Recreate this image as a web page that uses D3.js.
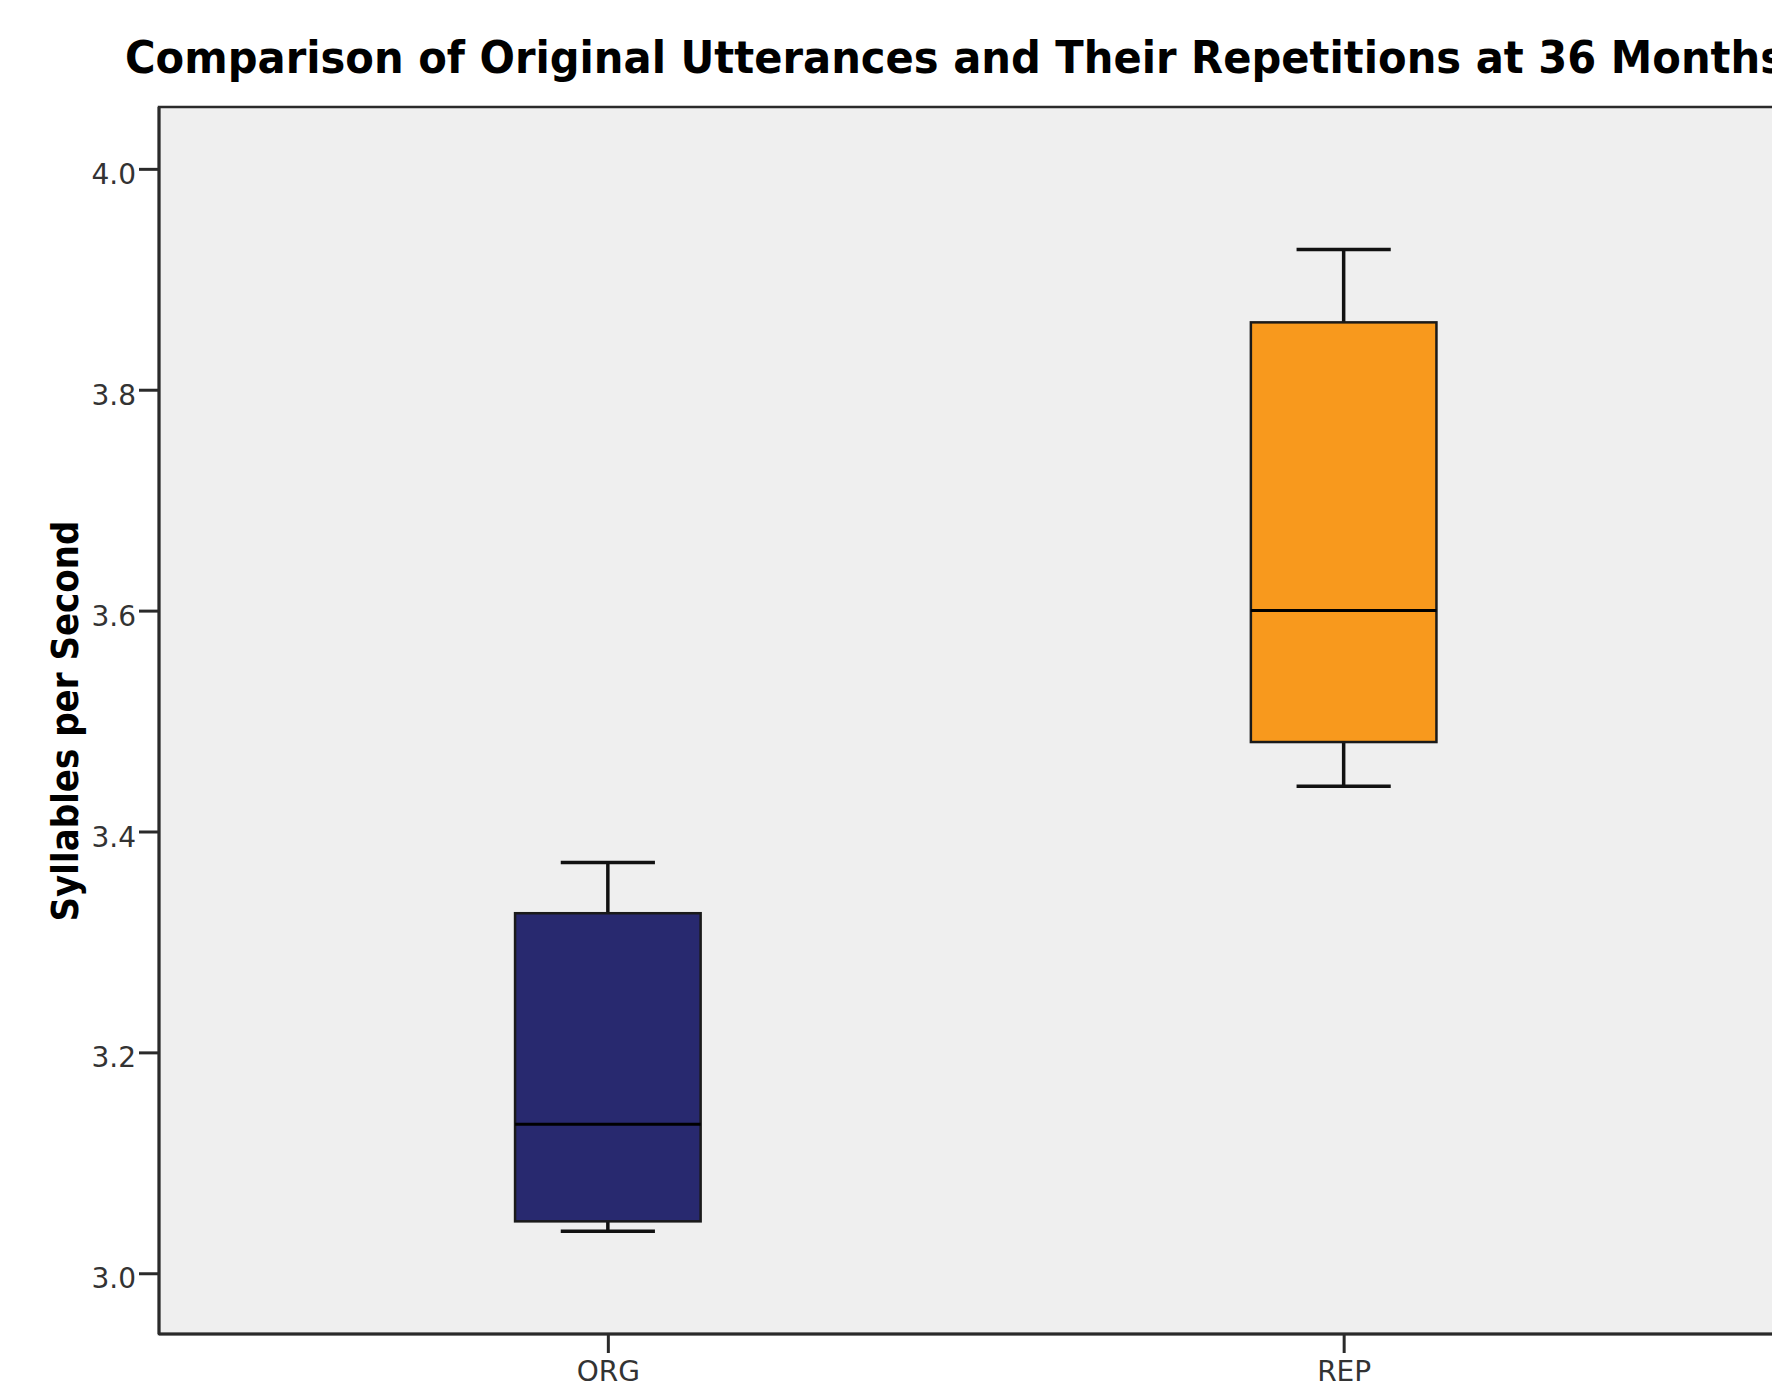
<!DOCTYPE html>
<html>
<head>
<meta charset="utf-8">
<script src="https://cdn.jsdelivr.net/npm/d3@7"></script>
<style>
  html, body { margin: 0; padding: 0; background: #ffffff; overflow: hidden; }
  svg { display: block; }
</style>
</head>
<body>
<svg id="chart" width="1772" height="1383"></svg>
<script>
// ---- data ----
const categories = ["ORG", "REP"];
const whiskerLow  = [3.038, 3.441];
const q1Values    = [3.047, 3.481];
const medians     = [3.135, 3.600];
const q3Values    = [3.326, 3.861];
const whiskerHigh = [3.372, 3.927];
const fillColors  = ["#28296f", "#f8991d"];
const yTicks      = [3.0, 3.2, 3.4, 3.6, 3.8, 4.0];
const titleText   = "Comparison of Original Utterances and Their Repetitions at 36 Months";
const yLabelText  = "Syllables per Second";

const boxes = categories.map((c, i) => ({
  cat: c, lo: whiskerLow[i], q1: q1Values[i], med: medians[i],
  q3: q3Values[i], hi: whiskerHigh[i], fill: fillColors[i]
}));

// ---- layout ----
const svg = d3.select("#chart");
const plot = { left: 159, top: 107, right: 1792.5, bottom: 1334 };

const x = d3.scalePoint().domain(categories)
  .range([plot.left, plot.right]).padding(0.61);
const y = d3.scaleLinear().domain([2.945, 4.056])
  .range([plot.bottom, plot.top]);

const step = x.step();
const boxW = step * 0.2522;
const capW = step * 0.128;

// plot background / frame
svg.append("rect")
  .attr("x", plot.left).attr("y", plot.top)
  .attr("width", 1772 - plot.left + 20)
  .attr("height", plot.bottom - plot.top)
  .attr("fill", "#efefef")
  .attr("stroke", "#2a2a2a").attr("stroke-width", 2.5);

// boxes
const g = svg.append("g");
const bx = g.selectAll("g.box").data(boxes).join("g").attr("class", "box");

// whisker stems
bx.append("line")
  .attr("x1", d => x(d.cat)).attr("x2", d => x(d.cat))
  .attr("y1", d => y(d.hi)).attr("y2", d => y(d.q3))
  .attr("stroke", "#111").attr("stroke-width", 3.5);
bx.append("line")
  .attr("x1", d => x(d.cat)).attr("x2", d => x(d.cat))
  .attr("y1", d => y(d.q1)).attr("y2", d => y(d.lo))
  .attr("stroke", "#111").attr("stroke-width", 3.5);
// caps
bx.append("line")
  .attr("x1", d => x(d.cat) - capW / 2).attr("x2", d => x(d.cat) + capW / 2)
  .attr("y1", d => y(d.hi)).attr("y2", d => y(d.hi))
  .attr("stroke", "#111").attr("stroke-width", 3.5);
bx.append("line")
  .attr("x1", d => x(d.cat) - capW / 2).attr("x2", d => x(d.cat) + capW / 2)
  .attr("y1", d => y(d.lo)).attr("y2", d => y(d.lo))
  .attr("stroke", "#111").attr("stroke-width", 3.5);
// box
bx.append("rect")
  .attr("x", d => x(d.cat) - boxW / 2)
  .attr("y", d => y(d.q3))
  .attr("width", boxW)
  .attr("height", d => y(d.q1) - y(d.q3))
  .attr("fill", d => d.fill)
  .attr("stroke", "#1a1a1a").attr("stroke-width", 2.5);
// median
bx.append("line")
  .attr("x1", d => x(d.cat) - boxW / 2).attr("x2", d => x(d.cat) + boxW / 2)
  .attr("y1", d => y(d.med)).attr("y2", d => y(d.med))
  .attr("stroke", "#000").attr("stroke-width", 3);

// y axis
const yAxis = d3.axisLeft(y).tickValues(yTicks).tickFormat(d3.format(".1f"))
  .tickSize(20).tickPadding(3).tickSizeOuter(0);
const ya = svg.append("g").attr("transform", `translate(${plot.left},0)`).call(yAxis);
ya.select(".domain").remove();
ya.selectAll(".tick line").attr("stroke", "#2a2a2a").attr("stroke-width", 3);
ya.selectAll(".tick text")
  .attr("font-family", "DejaVu Sans, sans-serif")
  .attr("font-size", 28).attr("fill", "#333")
  .attr("dy", "0.52em");

// x axis
const xAxis = d3.axisBottom(x).tickSize(19).tickPadding(8).tickSizeOuter(0);
const xa = svg.append("g").attr("transform", `translate(0,${plot.bottom})`).call(xAxis);
xa.select(".domain").remove();
xa.selectAll(".tick line").attr("stroke", "#2a2a2a").attr("stroke-width", 3);
xa.selectAll(".tick text")
  .attr("font-family", "DejaVu Sans, sans-serif")
  .attr("font-size", 28).attr("fill", "#333");

// left + bottom axis lines redrawn on top
svg.append("line").attr("x1", plot.left).attr("x2", plot.left)
  .attr("y1", plot.top).attr("y2", plot.bottom)
  .attr("stroke", "#2a2a2a").attr("stroke-width", 3);
svg.append("line").attr("x1", plot.left).attr("x2", 1772)
  .attr("y1", plot.bottom).attr("y2", plot.bottom)
  .attr("stroke", "#2a2a2a").attr("stroke-width", 3);

// title
svg.append("text")
  .attr("x", 125).attr("y", 73)
  .attr("font-family", "DejaVu Sans, sans-serif")
  .attr("font-weight", "bold").attr("font-size", 44)
  .attr("fill", "#000")
  .attr("textLength", 1660).attr("lengthAdjust", "spacingAndGlyphs")
  .text(titleText);

// y label
svg.append("text")
  .attr("transform", "translate(78,721) rotate(-90)")
  .attr("text-anchor", "middle")
  .attr("font-family", "DejaVu Sans, sans-serif")
  .attr("font-weight", "bold").attr("font-size", 38)
  .attr("fill", "#000")
  .attr("textLength", 401).attr("lengthAdjust", "spacingAndGlyphs")
  .text(yLabelText);
</script>
</body>
</html>
